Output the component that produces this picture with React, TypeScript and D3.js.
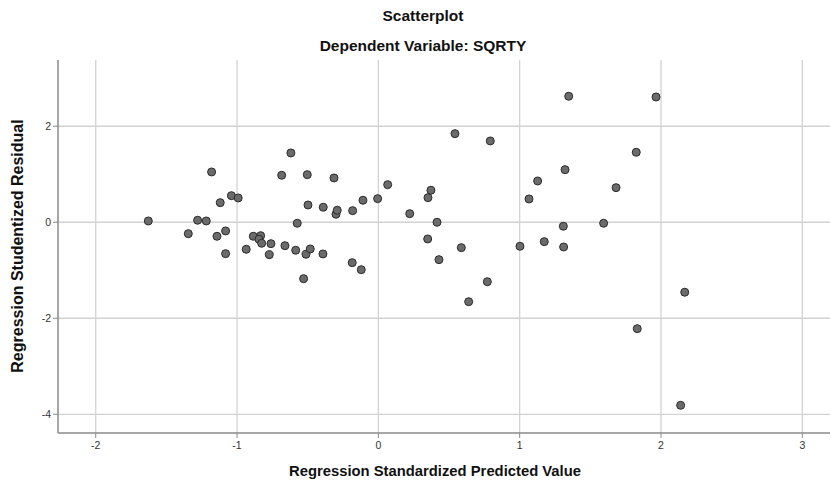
import React from "react";
import * as d3 from "d3";

const width = 831;
const height = 484;

// regression standardized predicted value
const predicted = [
  -1.628, -1.345, -1.279, -1.218, -1.18, -1.142, -1.119, -1.081, -1.081, -1.04,
  -0.992, -0.935, -0.885, -0.833, -0.845, -0.826, -0.76, -0.772, -0.661, -0.684,
  -0.619, -0.585, -0.574, -0.529, -0.512, -0.503, -0.498, -0.482, -0.39, -0.392,
  -0.314, -0.3, -0.291, -0.182, -0.185, -0.121, -0.109, -0.005, 0.066, 0.222,
  0.349, 0.351, 0.372, 0.415, 0.429, 0.542, 0.587, 0.639, 0.771, 0.792,
  1.002, 1.066, 1.127, 1.174, 1.309, 1.311, 1.321, 1.347, 1.594, 1.682,
  1.825, 1.832, 1.965, 2.139, 2.168,
];

// regression studentized residual
const residual = [
  0.027, -0.238, 0.042, 0.027, 1.048, -0.292, 0.408, -0.181, -0.654, 0.554,
  0.506, -0.563, -0.292, -0.279, -0.354, -0.438, -0.446, -0.675, -0.488, 0.979,
  1.444, -0.583, -0.021, -1.175, -0.667, 0.992, 0.36, -0.556, 0.313, -0.66,
  0.923, 0.167, 0.25, 0.242, -0.842, -0.988, 0.458, 0.492, 0.783, 0.179,
  -0.348, 0.513, 0.667, 0.0, -0.779, 1.846, -0.529, -1.654, -1.238, 1.694,
  -0.5, 0.485, 0.86, -0.404, -0.083, -0.515, 1.096, 2.625, -0.021, 0.721,
  1.458, -2.217, 2.61, -3.813, -1.458,
];

const xTicks = [-2, -1, 0, 1, 2, 3];
const yTicks = [-4, -2, 0, 2];

const left = 58;
const right = 830;
const top = 60;
const bottom = 433;

const font = "'Liberation Sans', Arial, sans-serif";

export default function App() {
  const x = d3.scaleLinear().domain([-2.267, 3.196]).range([left, right]);
  const y = d3.scaleLinear().domain([-4.39, 3.38]).range([bottom, top]);

  const points = predicted.map((p, i) => ({ p, r: residual[i] }));

  return (
    <svg
      width={width}
      height={height}
      style={{ position: "absolute", left: 0, top: 0, background: "#fff" }}
    >
      <text x={423} y={21} textAnchor="middle" fontFamily={font} fontWeight="bold" fontSize={15.5} fill="#111">
        Scatterplot
      </text>
      <text x={423} y={51} textAnchor="middle" fontFamily={font} fontWeight="bold" fontSize={15.5} fill="#111">
        Dependent Variable: SQRTY
      </text>

      {/* grid */}
      {xTicks.map((t) => (
        <line key={"gx" + t} x1={x(t)} x2={x(t)} y1={top} y2={bottom} stroke="#d2d2d2" strokeWidth={1.3} />
      ))}
      {yTicks.map((t) => (
        <line key={"gy" + t} x1={left} x2={right} y1={y(t)} y2={y(t)} stroke="#d2d2d2" strokeWidth={1.3} />
      ))}

      {/* axes */}
      <line x1={left} x2={left} y1={top} y2={bottom} stroke="#8a8a8a" strokeWidth={1.5} />
      <line x1={left} x2={right} y1={bottom} y2={bottom} stroke="#8a8a8a" strokeWidth={1.5} />
      {yTicks.map((t) => (
        <g key={"ty" + t}>
          <line x1={left - 5} x2={left} y1={y(t)} y2={y(t)} stroke="#8a8a8a" />
          <text x={left - 7} y={y(t)} dy="0.35em" textAnchor="end" fontFamily={font} fontSize={10.5} fill="#333">
            {t}
          </text>
        </g>
      ))}
      {xTicks.map((t) => (
        <g key={"tx" + t}>
          <line x1={x(t)} x2={x(t)} y1={bottom} y2={bottom + 5} stroke="#8a8a8a" />
          <text x={x(t)} y={bottom + 16} textAnchor="middle" fontFamily={font} fontSize={10.5} fill="#333">
            {t}
          </text>
        </g>
      ))}

      <text x={435} y={476} textAnchor="middle" fontFamily={font} fontWeight="bold" fontSize={14.8} fill="#111">
        Regression Standardized Predicted Value
      </text>
      <text
        transform={`translate(23, 246) rotate(-90)`}
        textAnchor="middle"
        fontFamily={font}
        fontWeight="bold"
        fontSize={16}
        fill="#111"
      >
        Regression Studentized Residual
      </text>

      {points.map((d, i) => (
        <circle key={i} cx={x(d.p)} cy={y(d.r)} r={4} fill="#6b6b6b" stroke="#2b2b2b" strokeWidth={1} />
      ))}
    </svg>
  );
}
